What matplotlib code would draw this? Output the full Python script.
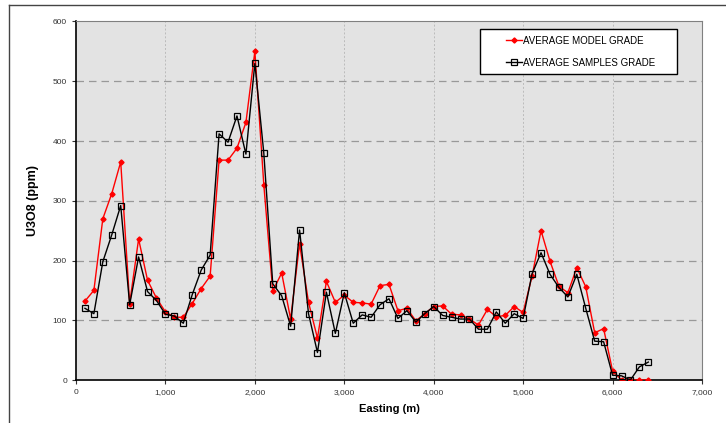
import numpy as np
import matplotlib
matplotlib.use('Agg')
from matplotlib import pyplot as plt
from matplotlib.lines import Line2D
from matplotlib.patches import Rectangle
from matplotlib.ticker import FuncFormatter

plt.rcParams['font.family'] = ['Liberation Sans', 'DejaVu Sans']

easting = list(range(100, 6500, 100))

model_grade = [132, 150, 270, 312, 365, 128, 236, 167, 137, 114,
               105, 105, 128, 153, 174, 368, 368, 388, 431, 550,
               327, 149, 179, 102, 228, 130, 70, 165, 130, 142,
               130, 129, 127, 158, 160, 116, 120, 99, 111, 123,
               124, 110, 109, 102, 92, 118, 106, 108, 123, 113,
               174, 250, 199, 157, 146, 188, 156, 79, 86, 15,
               0, 0, 0, 0]

samples_grade = [120, 111, 198, 243, 292, 126, 206, 148, 133, 110,
                 107, 95, 143, 184, 209, 412, 398, 442, 378, 530,
                 380, 161, 141, 90, 251, 111, 46, 147, 78, 146,
                 95, 109, 105, 126, 136, 103, 116, 97, 111, 123,
                 108, 105, 102, 102, 85, 85, 114, 95, 111, 103,
                 178, 213, 177, 155, 139, 177, 120, 65, 64, 8,
                 7, 0, 22, 30]

W, H = 726, 423
fig = plt.figure(figsize=(W / 100, H / 100), dpi=100)
ax = fig.add_axes([76 / W, 1 - 380 / H, 626 / W, 358.5 / H])
ax.set_facecolor('#e3e3e3')

ax.plot(easting, model_grade, color='red', lw=1, marker='D', ms=2.6,
        label='AVERAGE MODEL GRADE', zorder=3)
ax.plot(easting, samples_grade, color='black', lw=1, marker='s', ms=4.2,
        mfc='none', mec='black', mew=0.9, label='AVERAGE SAMPLES GRADE', zorder=4)

ax.set_xlim(0, 7000)
ax.set_ylim(0, 600)
ax.set_xticks(range(0, 7001, 1000))
ax.set_yticks(range(0, 601, 100))
ax.xaxis.set_major_formatter(FuncFormatter(lambda v, p: f'{int(v):,}'))
ax.tick_params(labelsize=6, length=3, width=0.8, colors='#333333')
for y in range(100, 600, 100):
    ax.axhline(y, color='#999999', lw=0.9, ls=(0, (6, 4)), zorder=1)
for x in range(1000, 7000, 1000):
    ax.axvline(x, color='#bbbbbb', lw=0.7, ls=(0, (2, 2)), zorder=1)

ax.spines['left'].set_color('black')
ax.spines['bottom'].set_color('black')
ax.spines['left'].set_linewidth(1.2)
ax.spines['bottom'].set_linewidth(1.2)
ax.spines['top'].set_color('#808080')
ax.spines['right'].set_color('#808080')

ax.set_ylabel('U3O8 (ppm)', fontsize=9, fontweight='bold', labelpad=10)
ax.set_xlabel('Easting (m)', fontsize=8, fontweight='bold', labelpad=6)

# legend box drawn by hand, legend itself frameless
fig.patches.append(Rectangle((480 / W, 1 - 74 / H), 197 / W, 45 / H,
                             transform=fig.transFigure, facecolor='white',
                             edgecolor='black', lw=1.0, zorder=5))
leg = fig.legend(loc='upper left', bbox_to_anchor=(506 / W, 1 - 35.5 / H),
                 fontsize=7, frameon=False, handlelength=1.6,
                 handletextpad=0.15, labelspacing=1.25, borderpad=0,
                 borderaxespad=0)
leg.set_zorder(6)

fig.add_artist(Line2D([9 / W, 9 / W], [0, 1 - 5 / H], color='#444444', lw=1))
fig.add_artist(Line2D([9 / W, 1], [1 - 5 / H, 1 - 5 / H], color='#444444', lw=1))

fig.savefig('out.png', dpi=100)
